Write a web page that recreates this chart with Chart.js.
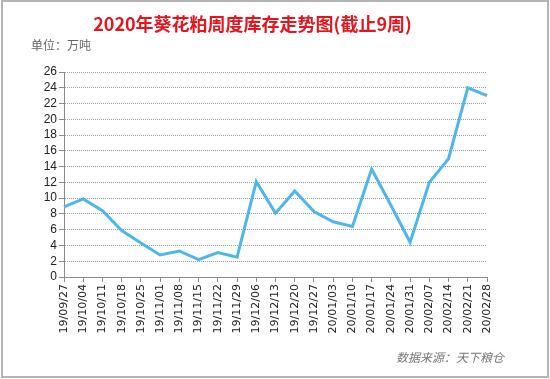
<!DOCTYPE html>
<html>
    <head>
        <meta charset="utf-8">
        <title>葵花粕周度库存</title>
        <script src="https://cdn.jsdelivr.net/npm/chart.js@4"></script>
        <style>
            body { margin: 0; background: #fff; }
            #box { position: relative; width: 550px; height: 379px; overflow: hidden; }
            #frame { position: absolute; left: 1px; top: 0px; width: 544px; height: 374px; border: 2px solid #b4b4b4; }
            #wykres { position: absolute; left: 0; top: 0; }
            .txt { position: absolute; white-space: nowrap; font-family: "Noto Sans CJK SC", sans-serif; }
            #tytul { left: 0; width: 505px; top: 10px; text-align: center; color: #e3161e; font-size: 18px; font-weight: bold; }
            #jednostka { left: 31px; top: 36px; color: #666; font-size: 12px; }
            #zrodlo { left: 396px; top: 348px; color: #777; font-size: 12px; font-style: italic; }
        </style>
    </head>

    <body>
        <div id="box">
            <div id="frame"></div>
            <canvas id="wykres" width="550" height="379"></canvas>
            <div class="txt" id="tytul">2020年葵花粕周度库存走势图(截止9周)</div>
            <div class="txt" id="jednostka">单位：万吨</div>
            <div class="txt" id="zrodlo">数据来源：天下粮仓</div>
        </div>

        <script>
            var tygodnie = ["19/09/27", "19/10/04", "19/10/11", "19/10/18", "19/10/25", "19/11/01", "19/11/08",
                "19/11/15", "19/11/22", "19/11/29", "19/12/06", "19/12/13", "19/12/20", "19/12/27",
                "20/01/03", "20/01/10", "20/01/17", "20/01/24", "20/01/31", "20/02/07", "20/02/14",
                "20/02/21", "20/02/28"];
            var zapasy = [8.9, 9.9, 8.4, 5.9, 4.3, 2.8, 3.3, 2.2, 3.1, 2.5, 12.1, 8.1, 10.9, 8.3,
                7.0, 6.4, 13.7, 9.1, 4.4, 12.0, 15.0, 24.0, 23.0];
            var osY = { min: 0, max: 26, krok: 2 };

            var wykres = new Chart(document.getElementById("wykres").getContext("2d"), {
                type: "line",
                data: {
                    labels: tygodnie,
                    datasets: [{
                        data: zapasy,
                        borderColor: "#4db6ea",
                        borderWidth: 3,
                        pointRadius: 0,
                        tension: 0,
                        fill: false
                    }]
                },
                options: {
                    responsive: false,
                    animation: false,
                    layout: { padding: { top: 72, right: 63, left: 20, bottom: 42 } },
                    plugins: {
                        legend: { display: false },
                        tooltip: { enabled: false }
                    },
                    scales: {
                        x: {
                            offset: false,
                            afterFit: function (s) { s.height = 60; },
                            border: { color: "#8c8c8c", width: 1 },
                            grid: { drawOnChartArea: false, drawTicks: true, tickLength: 5, tickColor: "#8c8c8c" },
                            ticks: {
                                autoSkip: false, maxRotation: 90, minRotation: 90, padding: 2,
                                color: "#222", font: { family: "DejaVu Sans", size: 11 }
                            }
                        },
                        y: {
                            min: osY.min,
                            max: osY.max,
                            afterFit: function (s) { s.width = 44; },
                            border: { color: "#8c8c8c", width: 1, dash: [1, 1] },
                            grid: {
                                color: "#9a9a9a", tickLength: 5,
                                tickColor: "#8c8c8c", tickBorderDash: []
                            },
                            ticks: {
                                stepSize: osY.krok, autoSkip: false, padding: 2,
                                color: "#222", font: { family: "Liberation Sans", size: 12 }
                            }
                        }
                    }
                }
            });
        </script>
    </body>
</html>
